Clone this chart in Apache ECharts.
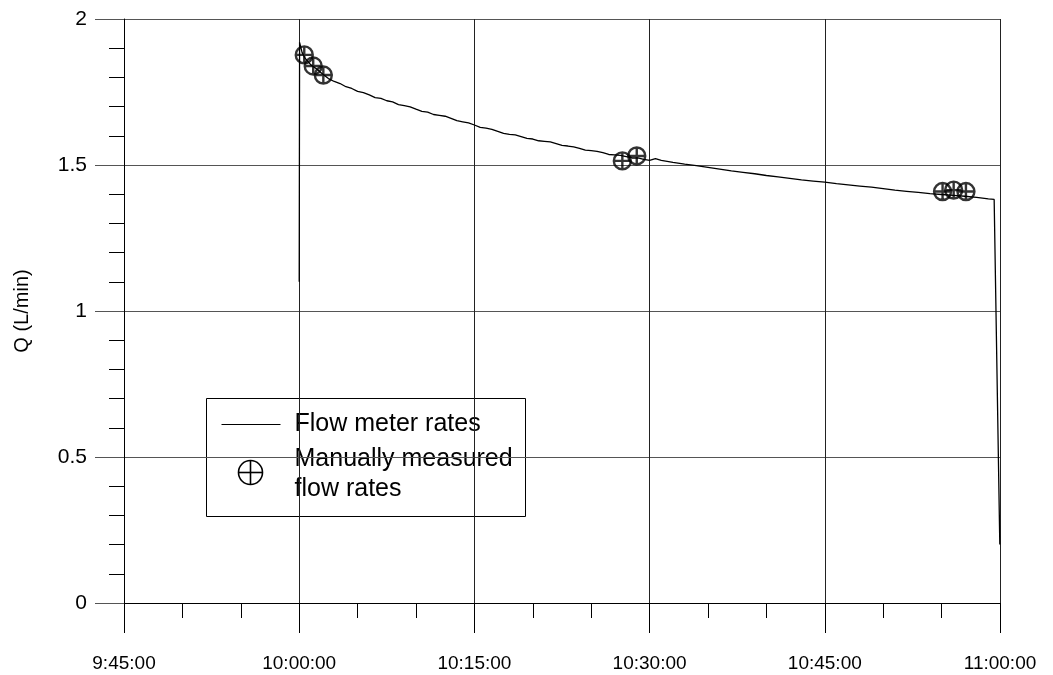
<!DOCTYPE html>
<html>
<head>
<meta charset="utf-8">
<script src="https://cdn.jsdelivr.net/npm/echarts@6/dist/echarts.min.js"></script>
<style>
  html, body { margin: 0; padding: 0; background: #fff; }
  #chart { width: 1053px; height: 675px; }
</style>
</head>
<body>
<div id="chart"></div>
<script>
// Flow meter log (clock time, Q in L/min)
const flowTimes = [
  "10:00:00", "10:00:02", "10:00:15", "10:00:30", "10:01:00", "10:01:30",
  "10:02:00", "10:02:30", "10:03:00", "10:03:30", "10:04:00", "10:04:30",
  "10:05:00", "10:05:30", "10:06:00", "10:06:30", "10:07:00", "10:07:30",
  "10:08:00", "10:08:30", "10:09:00", "10:09:30", "10:10:00", "10:10:30",
  "10:11:00", "10:11:30", "10:12:00", "10:12:30", "10:13:00", "10:13:30",
  "10:14:00", "10:14:30", "10:15:00", "10:15:30", "10:16:00", "10:16:30",
  "10:17:00", "10:17:30", "10:18:00", "10:18:30", "10:19:00", "10:19:30",
  "10:20:00", "10:20:30", "10:21:00", "10:21:30", "10:22:00", "10:22:30",
  "10:23:00", "10:23:30", "10:24:00", "10:24:30", "10:25:00", "10:25:30",
  "10:26:00", "10:26:30", "10:27:00", "10:27:30", "10:28:00", "10:28:30",
  "10:29:00", "10:29:30", "10:30:00", "10:30:30", "10:31:00", "10:32:00",
  "10:33:00", "10:34:00", "10:35:00", "10:36:00", "10:37:00", "10:38:00",
  "10:39:00", "10:40:00", "10:41:00", "10:42:00", "10:43:00", "10:44:00",
  "10:45:00", "10:46:00", "10:47:00", "10:48:00", "10:49:00", "10:50:00",
  "10:51:00", "10:52:00", "10:53:00", "10:54:00", "10:55:00", "10:56:00",
  "10:57:00", "10:58:00", "10:59:00", "10:59:30", "10:59:40", "10:59:59"
];
const flowQ = [
  1.10, 1.92, 1.885, 1.866, 1.843, 1.829,
  1.812, 1.796, 1.786, 1.779, 1.768, 1.762,
  1.752, 1.748, 1.740, 1.731, 1.728, 1.720,
  1.716, 1.707, 1.703, 1.699, 1.691, 1.684,
  1.681, 1.673, 1.670, 1.667, 1.660, 1.652,
  1.648, 1.644, 1.637, 1.629, 1.626, 1.622,
  1.615, 1.608, 1.605, 1.603, 1.597, 1.591,
  1.589, 1.583, 1.581, 1.579, 1.573, 1.567,
  1.565, 1.562, 1.557, 1.551, 1.549, 1.547,
  1.542, 1.536, 1.535, 1.533, 1.529, 1.524,
  1.524, 1.519, 1.516, 1.522, 1.516, 1.509,
  1.503, 1.498, 1.492, 1.486, 1.480, 1.475,
  1.470, 1.464, 1.459, 1.454, 1.449, 1.445,
  1.441, 1.436, 1.432, 1.428, 1.424, 1.419,
  1.414, 1.410, 1.406, 1.402, 1.399, 1.396,
  1.393, 1.389, 1.384, 1.382, 1.378, 0.20
];

// Hand readings taken with a graduated container
const manualTimes = ["10:00:26", "10:01:12", "10:02:04", "10:27:40", "10:28:54", "10:55:05", "10:56:02", "10:57:05"];
const manualQ = [1.877, 1.839, 1.808, 1.514, 1.531, 1.409, 1.414, 1.409];

// Axis ranges (clock time in minutes after midnight)
const xStart = "9:45:00";
const xEnd = "11:00:00";
const yTicks = [0, 0.5, 1, 1.5, 2];

function toMin(s) {
  const p = s.split(":").map(Number);
  return p[0] * 60 + p[1] + p[2] / 60;
}
function fmtClock(m) {
  const total = Math.round(m * 60);
  const h = Math.floor(total / 3600);
  const mm = Math.floor((total % 3600) / 60);
  const ss = total % 60;
  return h + ":" + String(mm).padStart(2, "0") + ":" + String(ss).padStart(2, "0");
}

const flowData = flowTimes.map((t, i) => [toMin(t), flowQ[i]]);
const manualData = manualTimes.map((t, i) => [toMin(t), manualQ[i]]);

// circle with a cross through it
const crossCircle = "path://M0,8A8,8 0 1,0 16,8A8,8 0 1,0 0,8ZM8,0L8,16M0,8L16,8";

const FONT = "'Liberation Sans', Arial, sans-serif";
const GRID = "#555";
const chart = echarts.init(document.getElementById("chart"), null, { renderer: "canvas" });

chart.setOption({
  animation: false,
  backgroundColor: "#fff",
  grid: { left: 124, right: 53, top: 19, bottom: 72, containLabel: false },
  xAxis: {
    type: "value",
    min: toMin(xStart),
    max: toMin(xEnd),
    interval: 15,
    axisLine: { show: true, onZero: false, lineStyle: { color: "#000", width: 1 } },
    axisTick: { show: true, inside: false, length: 30, lineStyle: { color: "#000", width: 1 } },
    minorTick: { show: true, splitNumber: 3, length: 15, lineStyle: { color: "#000", width: 1 } },
    splitLine: { show: true, lineStyle: { color: "#222", width: 1 } },
    axisLabel: {
      margin: 51, fontSize: 19, color: "#000", fontFamily: FONT,
      formatter: v => fmtClock(v)
    }
  },
  yAxis: {
    type: "value",
    min: yTicks[0],
    max: yTicks[yTicks.length - 1],
    interval: 0.5,
    name: "Q (L/min)",
    nameLocation: "middle",
    nameGap: 92,
    nameRotate: 90,
    nameTextStyle: { fontSize: 20, color: "#000", fontFamily: FONT },
    axisLine: { show: true, onZero: false, lineStyle: { color: "#000", width: 1 } },
    axisTick: { show: true, inside: false, length: 29, lineStyle: { color: GRID, width: 1 } },
    minorTick: { show: true, splitNumber: 5, length: 15, lineStyle: { color: "#000", width: 1 } },
    splitLine: { show: true, lineStyle: { color: GRID, width: 1 } },
    axisLabel: {
      margin: 37, fontSize: 21, color: "#000", fontFamily: FONT,
      formatter: v => String(v)
    }
  },
  series: [
    {
      name: "Flow meter rates",
      type: "line",
      data: flowData,
      showSymbol: false,
      symbol: "none",
      lineStyle: { color: "#000", width: 1.3 },
      emphasis: { disabled: true },
      z: 3
    },
    {
      name: "Manually measured flow rates",
      type: "scatter",
      data: manualData,
      symbol: crossCircle,
      symbolSize: 17,
      itemStyle: { color: "rgba(0,0,0,0)", borderColor: "#000", borderWidth: 2.4 },
      emphasis: { disabled: true },
      z: 4
    }
  ],
  graphic: [
    {
      type: "group",
      left: 206, top: 398,
      z: 10,
      children: [
        { type: "rect", shape: { x: 0, y: 0, width: 319, height: 118 },
          style: { fill: "#fff", stroke: "#000", lineWidth: 1 } },
        { type: "line", shape: { x1: 15, y1: 26, x2: 74, y2: 26 },
          style: { stroke: "#000", lineWidth: 1 } },
        { type: "text", x: 88, y: 26,
          style: { text: "Flow meter rates", fill: "#000", font: "25px " + FONT, textVerticalAlign: "middle" } },
        { type: "circle", shape: { cx: 44, cy: 74, r: 12 },
          style: { fill: "none", stroke: "#000", lineWidth: 1.6 } },
        { type: "line", shape: { x1: 44, y1: 62, x2: 44, y2: 86 },
          style: { stroke: "#000", lineWidth: 1.6 } },
        { type: "line", shape: { x1: 32, y1: 74, x2: 56, y2: 74 },
          style: { stroke: "#000", lineWidth: 1.6 } },
        { type: "text", x: 88, y: 61,
          style: { text: "Manually measured", fill: "#000", font: "25px " + FONT, textVerticalAlign: "middle" } },
        { type: "text", x: 88, y: 91,
          style: { text: "flow rates", fill: "#000", font: "25px " + FONT, textVerticalAlign: "middle" } }
      ]
    }
  ]
});
</script>
</body>
</html>
